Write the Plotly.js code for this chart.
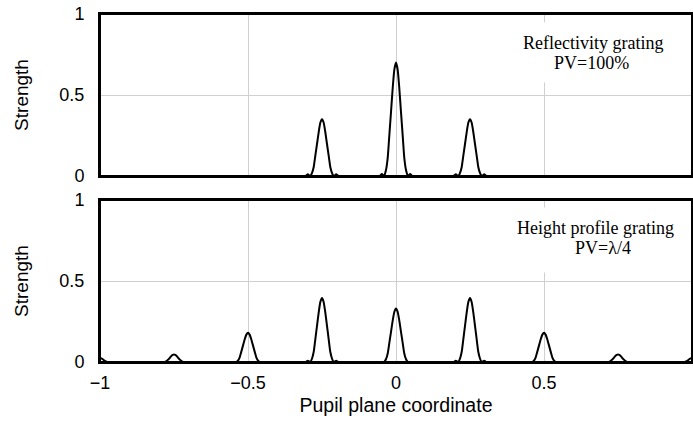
<!DOCTYPE html>
<html>
<head>
<meta charset="utf-8">
<script src="https://cdn.plot.ly/plotly-3.0.1.min.js"></script>
<style>html,body{margin:0;padding:0;background:#fff;}</style>
</head>
<body>
<div id="chart" style="width:693px;height:422px;"></div>
<script>
// Top panel: reflectivity grating (PV = 100%)
const topX = [-1,
  -0.306,-0.298,-0.29,-0.284,-0.278,-0.273,-0.267,-0.261,-0.2555,-0.25,-0.2445,-0.239,-0.233,-0.227,-0.222,-0.216,-0.21,-0.202,-0.194,
  -0.056,-0.048,-0.04,-0.034,-0.028,-0.023,-0.017,-0.011,-0.0055,0,0.0055,0.011,0.017,0.023,0.028,0.034,0.04,0.048,0.056,
  0.194,0.202,0.21,0.216,0.222,0.227,0.233,0.239,0.2445,0.25,0.2555,0.261,0.267,0.273,0.278,0.284,0.29,0.298,0.306,
  1];
const topY = [0,
  0,0.01,0,0.018,0.056,0.12,0.196,0.273,0.33,0.35,0.33,0.273,0.196,0.12,0.056,0.018,0,0.01,0,
  0,0.012,0,0.035,0.112,0.238,0.392,0.546,0.658,0.70,0.658,0.546,0.392,0.238,0.112,0.035,0,0.012,0,
  0,0.01,0,0.018,0.056,0.12,0.196,0.273,0.33,0.35,0.33,0.273,0.196,0.12,0.056,0.018,0,0.01,0,
  0];

// Bottom panel: height profile grating (PV = lambda/4)
const botX = [
  -1,-0.993,-0.986,-0.98,-0.975,
  -0.785,-0.779,-0.774,-0.769,-0.764,-0.759,-0.7545,-0.75,-0.7455,-0.741,-0.736,-0.731,-0.726,-0.721,-0.715,
  -0.54,-0.534,-0.528,-0.523,-0.517,-0.511,-0.5055,-0.5,-0.4945,-0.489,-0.483,-0.477,-0.472,-0.466,-0.46,
  -0.306,-0.298,-0.29,-0.284,-0.278,-0.273,-0.267,-0.261,-0.2555,-0.25,-0.2445,-0.239,-0.233,-0.227,-0.222,-0.216,-0.21,-0.202,-0.194,
  -0.04,-0.034,-0.028,-0.023,-0.017,-0.011,-0.0055,0,0.0055,0.011,0.017,0.023,0.028,0.034,0.04,
  0.194,0.202,0.21,0.216,0.222,0.227,0.233,0.239,0.2445,0.25,0.2555,0.261,0.267,0.273,0.278,0.284,0.29,0.298,0.306,
  0.46,0.466,0.472,0.477,0.483,0.489,0.4945,0.5,0.5055,0.511,0.517,0.523,0.528,0.534,0.54,
  0.715,0.721,0.726,0.731,0.736,0.741,0.7455,0.75,0.7545,0.759,0.764,0.769,0.774,0.779,0.785,
  0.975,0.98,0.986,0.993,1];
const botY = [
  0.025,0.02,0.01,0.003,0,
  0,0.002,0.0075,0.016,0.026,0.037,0.044,0.047,0.044,0.037,0.026,0.016,0.0075,0.002,0,
  0,0.009,0.029,0.061,0.101,0.14,0.169,0.18,0.169,0.14,0.101,0.061,0.029,0.009,0,
  0,0.008,0,0.02,0.063,0.134,0.221,0.308,0.371,0.395,0.371,0.308,0.221,0.134,0.063,0.02,0,0.008,0,
  0,0.017,0.053,0.112,0.185,0.257,0.31,0.33,0.31,0.257,0.185,0.112,0.053,0.017,0,
  0,0.008,0,0.02,0.063,0.134,0.221,0.308,0.371,0.395,0.371,0.308,0.221,0.134,0.063,0.02,0,0.008,0,
  0,0.009,0.029,0.061,0.101,0.14,0.169,0.18,0.169,0.14,0.101,0.061,0.029,0.009,0,
  0,0.002,0.0075,0.016,0.026,0.037,0.044,0.047,0.044,0.037,0.026,0.016,0.0075,0.002,0,
  0,0.003,0.01,0.02,0.025];

const xTickVals = [-1, -0.5, 0, 0.5, 1];
const xTickText = ["\u22121", "\u22120.5", "0", "0.5", "1"];
const yTickVals = [0, 0.5, 1];
const yTickText = ["0", "0.5", "1"];

const sans = "Liberation Sans, Arial, sans-serif";
const serif = "Liberation Serif, Times New Roman, serif";

const traces = [
  {x: topX, y: topY, xaxis: 'x2', yaxis: 'y2', type: 'scatter', mode: 'lines',
   line: {color: '#000', width: 2, shape: 'spline', smoothing: 0.5}, hoverinfo: 'skip', cliponaxis: true},
  {x: botX, y: botY, xaxis: 'x', yaxis: 'y', type: 'scatter', mode: 'lines',
   line: {color: '#000', width: 2, shape: 'spline', smoothing: 0.5}, hoverinfo: 'skip', cliponaxis: true}
];

const axisCommon = {
  showline: true, mirror: true, linecolor: '#000', linewidth: 2,
  showgrid: true, gridcolor: '#d0d0d0', gridwidth: 1,
  zeroline: false, ticks: '', fixedrange: true
};

const serifFont = {family: serif, size: 18, color: '#000'};

const layout = {
  width: 693, height: 422,
  margin: {l: 100, r: 1, t: 14, b: 60},
  paper_bgcolor: '#fff', plot_bgcolor: '#fff',
  showlegend: false,
  font: {family: sans, size: 18, color: '#000'},
  xaxis: Object.assign({}, axisCommon, {
    anchor: 'y', range: [-1, 1], tickvals: xTickVals, ticktext: xTickText,
    ticklabelstandoff: 3,
    title: {text: 'Pupil plane coordinate', font: {family: sans, size: 19.5}, standoff: 7}
  }),
  xaxis2: Object.assign({}, axisCommon, {
    anchor: 'y2', range: [-1, 1], matches: 'x', tickvals: xTickVals, showticklabels: false
  }),
  yaxis: Object.assign({}, axisCommon, {
    anchor: 'x', domain: [0, 0.4655], range: [0, 1], tickvals: yTickVals, ticktext: yTickText,
    ticklabelstandoff: 10,
    title: {text: 'Strength', font: {family: sans, size: 19}, standoff: 26}
  }),
  yaxis2: Object.assign({}, axisCommon, {
    anchor: 'x2', domain: [0.5345, 1], range: [0, 1], tickvals: yTickVals, ticktext: yTickText,
    ticklabelstandoff: 10,
    title: {text: 'Strength', font: {family: sans, size: 19}, standoff: 26}
  }),
  shapes: [
    {type: 'rect', xref: 'x2 domain', yref: 'y2 domain', x0: 0, x1: 1, y0: 0, y1: 1,
     line: {color: '#000', width: 2}, fillcolor: 'rgba(0,0,0,0)', layer: 'above'},
    {type: 'rect', xref: 'x domain', yref: 'y domain', x0: 0, x1: 1, y0: 0, y1: 1,
     line: {color: '#000', width: 2}, fillcolor: 'rgba(0,0,0,0)', layer: 'above'}
  ],
  annotations: [
    // white backing boxes that interrupt the grid behind the labels
    {xref: 'x2', yref: 'y2', x: 0.67, y: 0.762, text: ' ', showarrow: false,
     width: 150, height: 59, bgcolor: '#fff', borderpad: 0, font: serifFont},
    {xref: 'x', yref: 'y', x: 0.675, y: 0.753, text: ' ', showarrow: false,
     width: 165, height: 64, bgcolor: '#fff', borderpad: 0, font: serifFont},
    {xref: 'x2', yref: 'y2', x: 0.666, y: 0.823, text: 'Reflectivity grating', showarrow: false, font: serifFont},
    {xref: 'x2', yref: 'y2', x: 0.66, y: 0.696, text: 'PV=100%', showarrow: false, font: serifFont},
    {xref: 'x', yref: 'y', x: 0.674, y: 0.829, text: 'Height profile grating', showarrow: false, font: serifFont},
    {xref: 'x', yref: 'y', x: 0.698, y: 0.702, text: 'PV=\u03bb/4', showarrow: false, font: serifFont}
  ]
};

Plotly.newPlot('chart', traces, layout, {displayModeBar: false, staticPlot: true});
</script>
</body>
</html>
